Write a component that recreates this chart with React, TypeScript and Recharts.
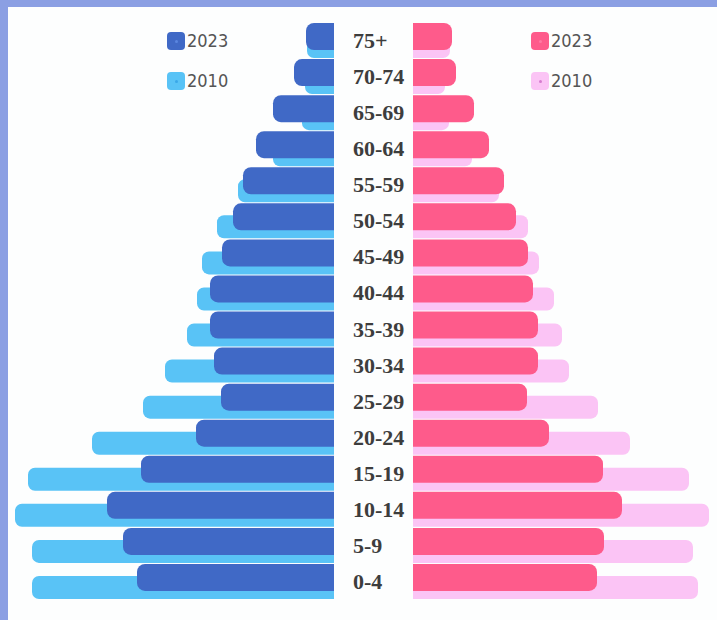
import React from "react";
import { BarChart, Bar, XAxis, YAxis, Legend, Rectangle } from "recharts";

const ages = ["75+", "70-74", "65-69", "60-64", "55-59", "50-54", "45-49", "40-44", "35-39", "30-34", "25-29", "20-24", "15-19", "10-14", "5-9", "0-4"];
const male2023 = [1.4, 2.0, 3.05, 3.9, 4.55, 5.05, 5.6, 6.2, 6.2, 6.0, 5.65, 6.9, 9.65, 11.35, 10.55, 9.85];
const male2010 = [1.35, 1.45, 1.6, 3.05, 4.8, 5.85, 6.6, 6.85, 7.35, 8.45, 9.55, 12.1, 15.3, 15.95, 15.1, 15.1];
const female2023 = [1.95, 2.15, 3.05, 3.8, 4.55, 5.15, 5.75, 6.0, 6.25, 6.25, 5.7, 6.8, 9.5, 10.45, 9.55, 9.2];
const female2010 = [1.85, 1.6, 1.8, 2.95, 4.3, 5.75, 6.3, 7.05, 7.45, 7.8, 9.25, 10.85, 13.8, 14.8, 14.0, 14.25];

const maleData = ages.map((age, i) => ({ age, y2023: male2023[i], y2010: male2010[i] }));
const femaleData = ages.map((age, i) => ({ age, y2023: female2023[i], y2010: female2010[i] }));

const C = {
  blueDark: "#4069c6",
  blueLight: "#59c3f6",
  pink: "#fe5b8b",
  pinkLight: "#fbc4f5",
};

const roundShape = (side: "left" | "right", r: number) => (props: any) => {
  const { x, y, width, height, fill } = props;
  let x0 = x;
  let w = width;
  if (w < 0) {
    x0 = x + w;
    w = -w;
  }
  const rr = Math.min(r, w / 2, height / 2);
  const radius: [number, number, number, number] = side === "left" ? [rr, 0, 0, rr] : [0, rr, rr, 0];
  return <Rectangle x={x0} y={y} width={w} height={height} radius={radius} fill={fill} />;
};

const AgeTick = (props: any) => {
  const { x, y, payload } = props;
  return (
    <text
      x={x - 60}
      y={y - 1.5}
      textAnchor="start"
      dominantBaseline="central"
      fontFamily="'Liberation Serif', 'DejaVu Serif', serif"
      fontWeight={700}
      fontSize={22}
      fill="#3d3d3d"
    >
      {payload.value}
    </text>
  );
};

const dotColors: Record<string, string> = {
  [C.blueDark]: "#5a86e0",
  [C.blueLight]: "#3aa8e8",
  [C.pink]: "#ff7aa3",
  [C.pinkLight]: "#d77ccf",
};

const LegendContent = (props: any) => {
  const items = [...(props.payload || [])].sort((a: any, b: any) => String(b.value).localeCompare(String(a.value)));
  return (
    <div>
      {items.map((it: any) => (
        <div key={it.value} style={{ display: "flex", alignItems: "center", height: 18, marginBottom: 22 }}>
          <div
            style={{
              width: 18,
              height: 18,
              borderRadius: 4,
              background: it.color,
              position: "relative",
            }}
          >
            <div
              style={{
                position: "absolute",
                left: 7.5,
                top: 7.5,
                width: 3,
                height: 3,
                borderRadius: 2,
                background: dotColors[it.color] || it.color,
              }}
            />
          </div>
          <span
            style={{
              marginLeft: 2,
              fontFamily: "'Liberation Sans Narrow', 'DejaVu Sans Condensed', 'Liberation Sans', sans-serif",
              fontSize: 18,
              color: "#555",
              lineHeight: "18px",
            }}
          >
            {it.value}
          </span>
        </div>
      ))}
    </div>
  );
};

const margin = { top: 24, right: 0, bottom: 19, left: 0 };

export default function App() {
  return (
    <div style={{ position: "absolute", left: 0, top: 0, width: 717, height: 620, background: "#8b9fe3", overflow: "hidden" }}>
      <div style={{ position: "absolute", left: 8, top: 7, width: 709, height: 613, background: "#fdfefe" }} />
      <div style={{ position: "absolute", left: 0, top: 0 }}>
        <BarChart width={334} height={620} data={maleData} layout="vertical" margin={margin} barGap={-35}>
          <XAxis type="number" domain={[0, 16.7]} allowDataOverflow reversed hide />
          <YAxis type="category" dataKey="age" hide />
          <Legend
            content={<LegendContent />}
            layout="vertical"
            verticalAlign="middle"
            align="center"
            wrapperStyle={{ left: 167, top: 32, width: 80, height: 80 }}
          />
          <Bar dataKey="y2010" name="2010" fill={C.blueLight} barSize={23} isAnimationActive={false} shape={roundShape("left", 7)} />
          <Bar dataKey="y2023" name="2023" fill={C.blueDark} barSize={27} isAnimationActive={false} shape={roundShape("left", 8)} />
        </BarChart>
      </div>
      <div style={{ position: "absolute", left: 334, top: 0 }}>
        <BarChart width={383} height={620} data={femaleData} layout="vertical" margin={margin} barGap={-35}>
          <XAxis type="number" domain={[0, 15.2]} allowDataOverflow hide />
          <YAxis
            type="category"
            dataKey="age"
            width={79}
            axisLine={false}
            tickLine={false}
            tickSize={0}
            tickMargin={0}
            interval={0}
            tick={<AgeTick />}
          />
          <Legend
            content={<LegendContent />}
            layout="vertical"
            verticalAlign="middle"
            align="center"
            wrapperStyle={{ left: 197, top: 32, width: 80, height: 80 }}
          />
          <Bar dataKey="y2010" name="2010" fill={C.pinkLight} barSize={23} isAnimationActive={false} shape={roundShape("right", 7)} />
          <Bar dataKey="y2023" name="2023" fill={C.pink} barSize={27} isAnimationActive={false} shape={roundShape("right", 8)} />
        </BarChart>
      </div>
    </div>
  );
}
